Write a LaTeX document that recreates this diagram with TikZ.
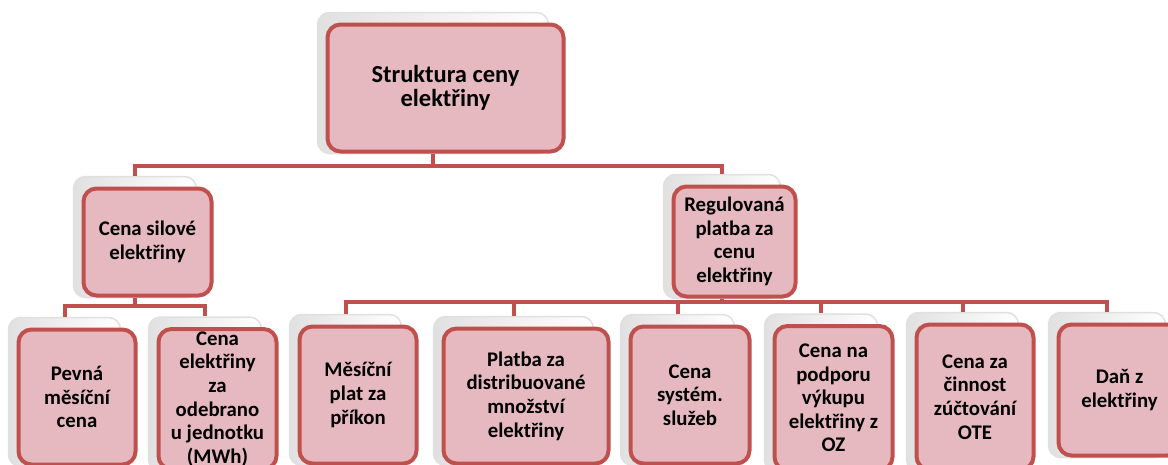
\documentclass[tikz,border=0pt]{standalone}
\usepackage{fontspec}
\setmainfont{Carlito}
\usetikzlibrary{backgrounds,fit}

\definecolor{cervena}{HTML}{C0504D}
\definecolor{ruzova}{HTML}{E6B9C0}

\tikzset{
	kasten/.style={draw=cervena, fill=ruzova, line width=4pt, rounded corners=13pt,
		align=center, inner sep=2pt, font=\bfseries\fontsize{20.8}{23.6}\selectfont},
	stin/.style={draw=black!12, line width=1.5pt, rounded corners=12pt,
		left color=black!12, right color=white, inner sep=0pt},
	spoj/.style={draw=cervena, line width=4pt}
}

\begin{document}
\begin{tikzpicture}[x=1pt,y=-1pt]
\useasboundingbox (0,0) rectangle (1168,464);

% horni uroven
\node [kasten, minimum width=236pt, minimum height=127pt,
	font=\bfseries\fontsize{24.5}{24.5}\selectfont] (top) at (445.5,88) {Struktura ceny\\elektřiny};

% druha uroven
\node [kasten, minimum width=128pt, minimum height=107pt] (sil) at (147.5,242) {Cena silové\\elektřiny};
\node [kasten, minimum width=122pt, minimum height=110pt] (reg) at (734.5,241.5) {Regulovaná\\platba za\\cenu\\elektřiny};

% treti uroven
\node [kasten, minimum width=117pt, minimum height=135pt] (pevna) at (77,397) {Pevná\\měsíční\\cena};
\node [kasten, minimum width=118pt, minimum height=140pt] (odeb) at (217.5,399) {Cena\\elektřiny\\za\\odebrano\\u jednotku\\(MWh)};
\node [kasten, minimum width=117pt, minimum height=137pt] (mesic) at (358,395) {Měsíční\\plat za\\příkon};
\node [kasten, minimum width=165pt, minimum height=135pt] (platba) at (526,396) {Platba za\\distribuované\\množství\\elektřiny};
\node [kasten, minimum width=119pt, minimum height=137pt] (sys) at (690,395) {Cena\\systém.\\služeb};
\node [kasten, minimum width=118pt, minimum height=144pt] (oz) at (833.5,398) {Cena na\\podporu\\výkupu\\elektřiny z\\OZ};
\node [kasten, minimum width=117pt, minimum height=145pt] (ote) at (975,397) {Cena za\\činnost\\zúčtování\\OTE};
\node [kasten, minimum width=122pt, minimum height=131pt] (dan) at (1119.5,390) {Daň z\\elektřiny};

\coordinate (b1) at (0,166);
\coordinate (b2) at (0,306);
\coordinate (b3) at (0,302);

\begin{scope}[on background layer]
	\foreach \n in {top,sil,reg,pevna,odeb,mesic,platba,sys,oz,ote,dan}{
		\node [stin, fit={([xshift=-8pt,yshift=10pt]\n.north west) ([xshift=-17pt]\n.south east)}] (s-\n) {};
	}
	\begin{pgfonlayer}{background}
	\foreach \c in {sil,reg}
		\draw [spoj] (s-top.south) |- (b1 -| s-\c) -- (s-\c.north);
	\foreach \c in {pevna,odeb}
		\draw [spoj] (s-sil.south) |- (b2 -| s-\c) -- (s-\c.north);
	\foreach \c in {mesic,platba,sys,oz,ote,dan}
		\draw [spoj] (s-reg.south) |- (b3 -| s-\c) -- (s-\c.north);
	\end{pgfonlayer}
\end{scope}

\end{tikzpicture}
\end{document}
